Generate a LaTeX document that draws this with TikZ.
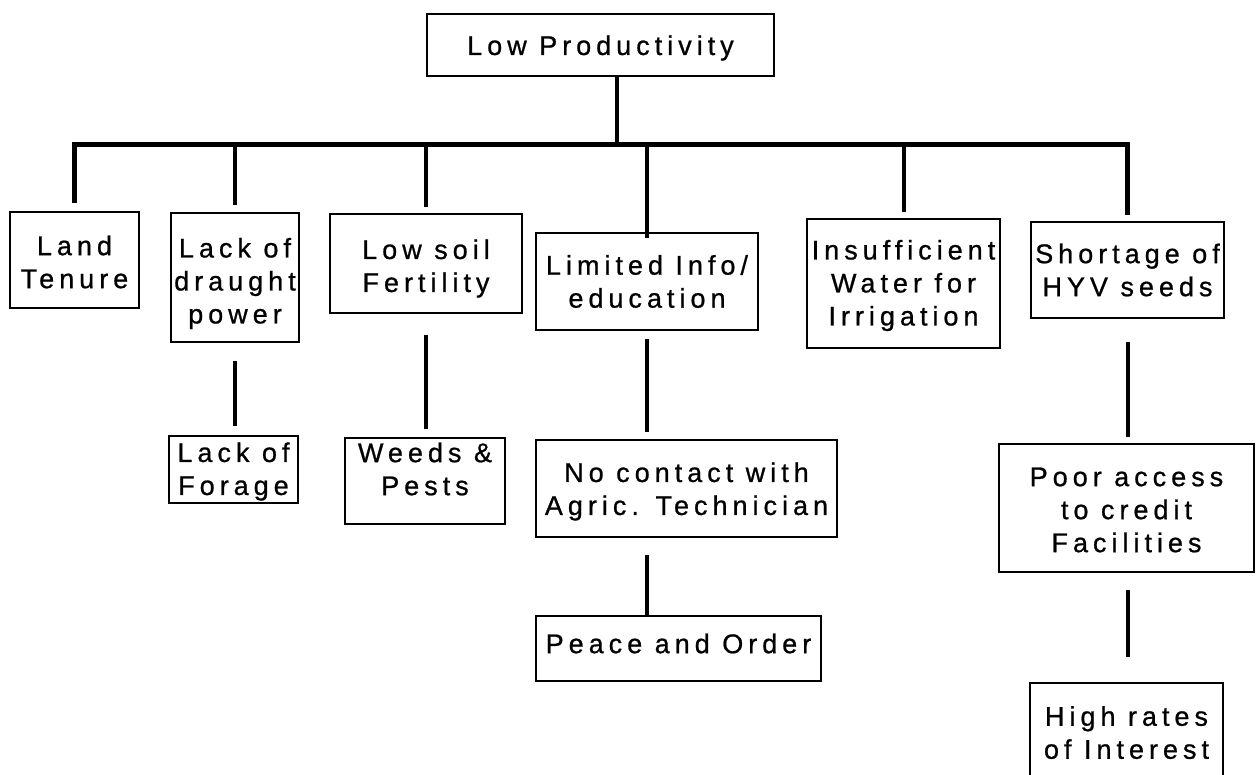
\documentclass[tikz,border=0pt]{standalone}
\usepackage{fontspec}
\setmainfont{Liberation Sans}[LetterSpace=18.5, FakeBold=0.8]
\begin{document}
\begin{tikzpicture}[x=1pt,y=-1pt,
  box/.style={draw, line width=2pt, inner sep=0pt, anchor=north west},
  txt/.style={inner sep=0pt, align=center, font=\fontsize{27}{33}\selectfont},
  conn/.style={line width=4pt},
  busline/.style={line width=5pt, line join=miter}]
\useasboundingbox (0,0) rectangle (1259,775);
% cause box: name, left, top, width, height, text offset downwards, text
\newcommand{\causebox}[7]{%
  \node[box, minimum width=#4pt, minimum height=#5pt] (#1) at (#2,#3) {};
  \node[txt] (#1-t) at ([yshift=-#6pt]#1.center) {#7};}
\causebox{top}{426}{13}{347}{62}{3}{Low Productivity}
\causebox{landt}{9}{211}{129}{96}{2}{Land\\Tenure}
\causebox{draught}{170}{212}{128}{129}{6}{Lack of\\draught\\power}
\causebox{soil}{329}{213}{192}{99}{5}{Low soil\\Fertility}
\causebox{limited}{535}{232}{222}{97}{0}{Limited Info/\\education}
\causebox{water}{806}{218}{193}{129}{2}{Insufficient\\Water for\\Irrigation}
\causebox{seeds}{1030}{221}{193}{96}{0}{Shortage of\\HYV seeds}
\causebox{forage}{168}{435}{129}{67}{2}{Lack of\\Forage}
\causebox{weeds}{344}{437}{160}{86}{-12}{Weeds \&\\Pests}
\causebox{contact}{535}{439}{301}{97}{3}{No contact with\\Agric. Technician}
\causebox{peace}{535}{615}{285}{65}{-5}{Peace and Order}
\causebox{credit}{998}{443}{255}{128}{2}{Poor access\\to credit\\Facilities}
% last box runs past the lower edge of the page
\node[box, minimum width=193pt, minimum height=110pt] (interest) at (1029,682) {};
\node[txt, anchor=north] (interest-t) at ([yshift=-24pt]interest.north) {High rates\\of Interest};
% trunk and bus
\coordinate (bus) at (0,145);
\coordinate (trunk) at (617,145);
\draw[conn] (top.south -| trunk) -- (trunk);
\draw[busline, shorten <=8pt, shorten >=6pt]
  (landt.north) -- (landt.north |- bus) -- (seeds.north |- bus) -- (seeds.north);
\draw[conn, shorten >=7pt] (draught.north |- bus) -- (draught.north);
\draw[conn, shorten >=6pt] (soil.north |- bus) -- (soil.north);
\draw[conn] (limited.north |- bus) -- ([yshift=-6pt]limited.north);
\draw[conn, shorten >=6pt] (water.north |- bus) -- (water.north);
% second and third levels
\draw[conn, shorten <=18pt, shorten >=9pt] (draught.south) -- (draught.south |- forage.north);
\draw[conn, shorten <=21pt, shorten >=8pt] (soil.south) -- (soil.south |- weeds.north);
\draw[conn, shorten <=8pt, shorten >=7pt] (limited.south) -- (limited.south |- contact.north);
\draw[conn, shorten <=17pt] (limited.south |- contact.south) -- (limited.south |- peace.north);
\draw[conn, shorten <=23pt, shorten >=6pt] (seeds.south) -- (seeds.south |- credit.north);
\draw[conn, shorten <=17pt, shorten >=25pt] (seeds.south |- credit.south) -- (seeds.south |- interest.north);
\end{tikzpicture}
\end{document}
